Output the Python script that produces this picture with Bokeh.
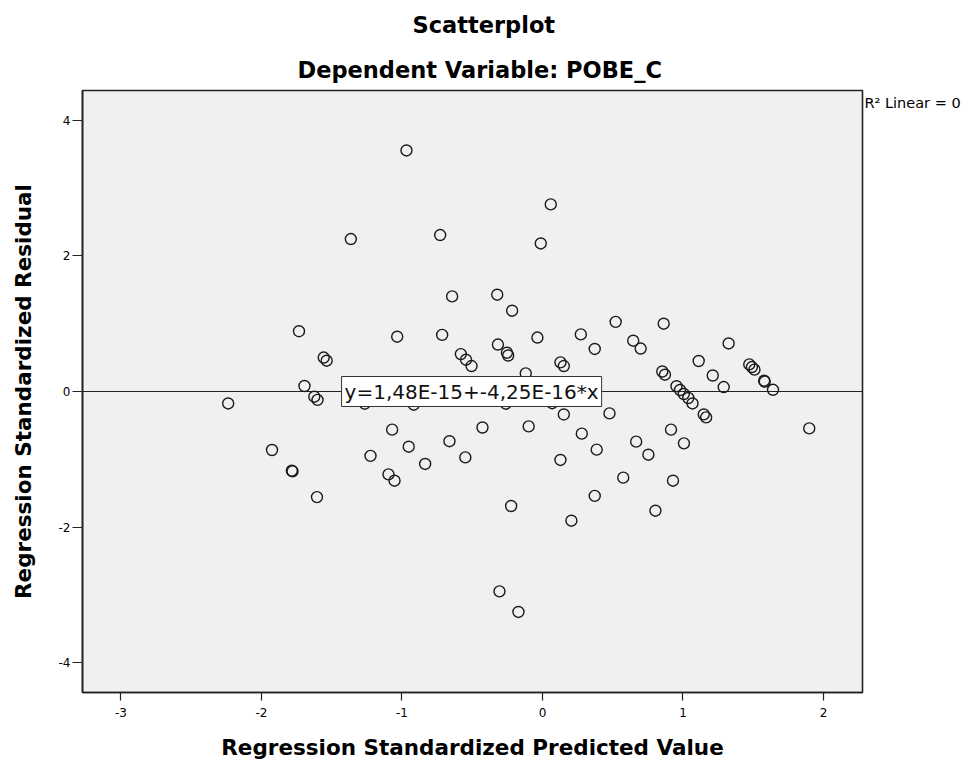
from bokeh.plotting import figure
from bokeh.models import Range1d, FixedTicker, Label, Title, LinearAxis
from bokeh.embed import file_html
from bokeh.resources import INLINE

# ---- data ----
pred = [
    -0.968, 0.059, -0.012, -1.364, -0.728, -0.643, -0.322, -0.216, -1.733, -1.034,
    -0.714, -0.036, 0.273, 0.521, 0.863, 0.646, 0.699, 0.372, -0.317, -0.253,
    -0.244, -0.581, -0.544, -0.505, -1.557, -1.536, 0.128, 0.152, -0.119, 1.112,
    1.212, 1.290, 1.325, 1.472, 1.491, 1.509, 1.578, 1.582, 1.641, 0.853,
    0.872, 0.954, 0.979, 1.006, 1.038, 1.068, 1.148, 1.165, -1.694, -1.624,
    -1.601, -2.237, -1.265, -0.916, -0.261, 0.069, -1.070, -1.925, -1.224, -0.952,
    -1.784, -1.779, -1.096, -1.053, -0.835, -0.662, -0.549, -0.427, -0.098, 0.152,
    0.477, 0.280, 0.128, 0.386, 0.667, 0.754, 0.915, 1.007, 0.575, 0.929,
    0.372, -0.223, 0.206, 0.804, 1.899, -0.306, -0.171, -1.605]
resid = [
    3.556, 2.760, 2.184, 2.249, 2.308, 1.403, 1.428, 1.192, 0.889, 0.808,
    0.835, 0.796, 0.842, 1.027, 1.000, 0.749, 0.634, 0.628, 0.693, 0.572,
    0.531, 0.552, 0.469, 0.376, 0.501, 0.454, 0.429, 0.376, 0.267, 0.450,
    0.236, 0.066, 0.709, 0.400, 0.361, 0.322, 0.159, 0.145, 0.025, 0.295,
    0.248, 0.078, 0.022, -0.037, -0.096, -0.176, -0.338, -0.382, 0.081, -0.077,
    -0.124, -0.176, -0.180, -0.195, -0.180, -0.173, -0.563, -0.863, -0.950, -0.814,
    -1.168, -1.178, -1.223, -1.316, -1.069, -0.733, -0.972, -0.531, -0.515, -0.339,
    -0.323, -0.622, -1.010, -0.858, -0.740, -0.932, -0.563, -0.765, -1.271, -1.316,
    -1.540, -1.689, -1.906, -1.758, -0.544, -2.948, -3.252, -1.558]

intercept = 1.48e-15
slope = -4.25e-16
fit_text = "y=1,48E-15+-4,25E-16*x"
r2_text = "R\u00b2 Linear = 0"

x_ticks = [-3, -2, -1, 0, 1, 2]
y_ticks = [-4, -2, 0, 2, 4]
x_lo, x_hi = -3.274, 2.278
y_lo, y_hi = -4.44, 4.44

title_main = "Scatterplot"
title_sub = "Dependent Variable: POBE_C"
x_label = "Regression Standardized Predicted Value"
y_label = "Regression Standardized Residual"

FONT_B = "DejaVu Sans"
FONT = "DejaVu Sans"

p = figure(width=980, height=764, output_backend="svg", toolbar_location=None,
           x_range=Range1d(x_lo, x_hi), y_range=Range1d(y_lo, y_hi),
           min_border_left=82, min_border_right=118, min_border_top=90,
           min_border_bottom=72)

p.add_layout(Title(text=title_sub, align="left", text_font=FONT_B,
                   text_font_size="22.5px", text_font_style="bold",
                   text_color="black", standoff=16, offset=215,
                   text_line_height=1.0), "above")
p.add_layout(Title(text=title_main, align="left", text_font=FONT_B,
                   text_font_size="22.5px", text_font_style="bold",
                   text_color="black", standoff=18, offset=330,
                   text_line_height=1.0), "above")

p.background_fill_color = "#f0f0f0"
p.border_fill_color = "white"
p.outline_line_color = "#222222"
p.outline_line_width = 1.6
p.xgrid.visible = False
p.ygrid.visible = False

for ax, ticks, lab in ((p.xaxis[0], x_ticks, x_label), (p.yaxis[0], y_ticks, y_label)):
    ax.ticker = FixedTicker(ticks=ticks)
    ax.major_label_overrides = {t: str(t) for t in ticks}
    ax.minor_tick_line_color = None
    ax.major_tick_in = 0
    ax.major_tick_line_color = "#222222"
    ax.major_tick_line_width = 1.2
    ax.axis_line_color = "#222222"
    ax.axis_line_width = 1.6
    ax.major_label_text_font = FONT
    ax.major_label_text_font_size = "12px"
    ax.major_label_text_color = "black"
    ax.axis_label = lab
    ax.axis_label_text_font = FONT_B
    ax.axis_label_text_font_size = "21.5px"
    ax.axis_label_text_font_style = "bold"
    ax.axis_label_text_color = "black"

p.xaxis[0].major_tick_out = 8
p.xaxis[0].major_label_standoff = 7
p.xaxis[0].axis_label_standoff = 15
p.yaxis[0].major_tick_out = 10
p.yaxis[0].major_label_standoff = 2
p.yaxis[0].axis_label_standoff = 20

# R2 note to the right of the frame, near its top
r2_pos = 4.25
r_ax = LinearAxis(ticker=FixedTicker(ticks=[r2_pos]),
                  major_label_overrides={r2_pos: r2_text})
r_ax.axis_line_color = None
r_ax.major_tick_line_color = None
r_ax.minor_tick_line_color = None
r_ax.major_tick_out = 0
r_ax.major_tick_in = 0
r_ax.major_label_standoff = 2
r_ax.major_label_text_font = FONT
r_ax.major_label_text_font_size = "14.5px"
r_ax.major_label_text_color = "black"
p.add_layout(r_ax, "right")

# fit line
xs_fit = [x_lo, x_hi]
ys_fit = [intercept + slope * v for v in xs_fit]
p.line(xs_fit, ys_fit, line_color="#222222", line_width=1.2)

# points
p.scatter(pred, resid, size=11, marker="circle", fill_alpha=0,
          line_color="#1a1a1a", line_width=1.4)

# fit label
lab_x = -1.43
p.add_layout(Label(x=lab_x, y=intercept + slope * lab_x, text=fit_text,
                   text_font=FONT, text_font_size="20px", text_color="#111111",
                   text_align="left", text_baseline="middle",
                   background_fill_color="white", border_line_color="#333333",
                   border_line_width=1, padding=3))

open("out.html", "w").write(file_html(p, INLINE))
